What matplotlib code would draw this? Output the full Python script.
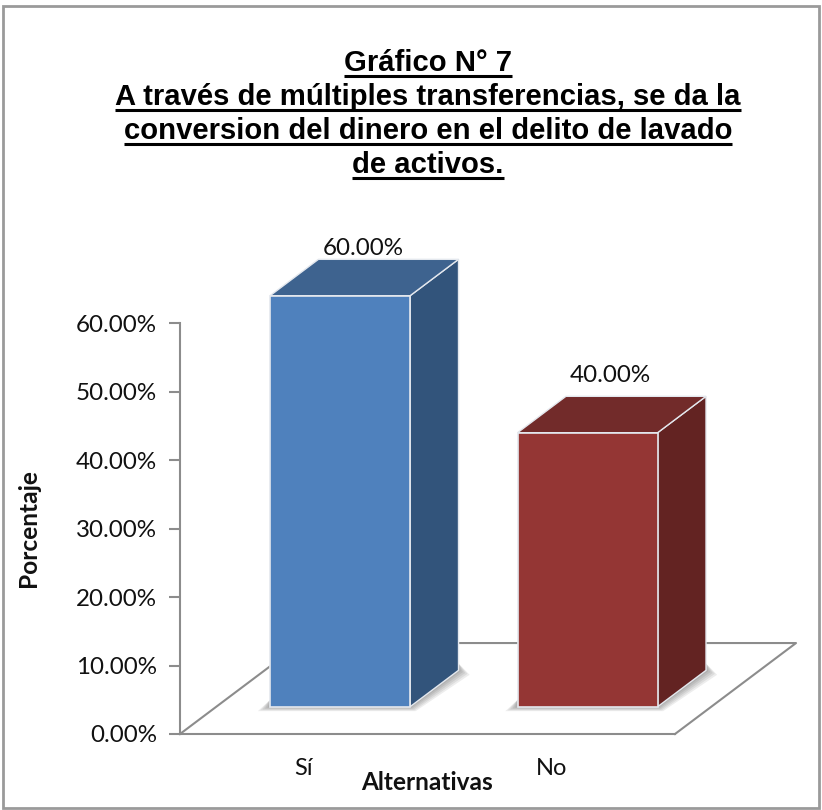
import matplotlib
matplotlib.use("Agg")
import matplotlib.pyplot as plt
from matplotlib.lines import Line2D
from matplotlib.patches import Polygon, Rectangle

categories = ["Sí", "No"]
values = [60.0, 40.0]
front_colors = ["#4f81bd", "#943634"]
top_colors = ["#3e638f", "#722b2a"]
side_colors = ["#32547b", "#632322"]
yticks = [0, 10, 20, 30, 40, 50, 60]
title_lines = [
    "Gráfico N° 7",
    "A través de múltiples transferencias, se da la",
    "conversion del dinero en el delito de lavado",
    "de activos.",
]

W, H = 822, 810
GRAY = "#8c8c8c"
BAR_W = 0.566
# floor depth in data units, bars stand between 30% and 70% of it
FLOOR_DX = 0.489
FLOOR_DY = 13.28
D0, D1 = 0.30, 0.70
# gap between the back of the top face and the value label, one per bar
LABEL_GAPS = [0.05, 1.45]


def px(x0, y0, x1, y1):
    # rectangle in pixels from the top left, to figure fractions
    return [x0 / W, 1 - y1 / H, (x1 - x0) / W, (y1 - y0) / H]


def main():
    fig = plt.figure(figsize=(W / 100, H / 100), dpi=100)
    fig.patch.set_facecolor("white")
    fig.add_artist(Rectangle((2.5 / W, 1 - 807.5 / H), 816.5 / W, 802 / H, transform=fig.transFigure,
                             fill=False, ec="#9a9a9a", lw=2.0))

    ax = fig.add_axes(px(180, 323, 675, 734))
    ax.set_xlim(-0.5, 1.5)
    ax.set_ylim(0, 60)
    ax.patch.set_alpha(0)
    for s in ["top", "right"]:
        ax.spines[s].set_visible(False)
    for s in ["left", "bottom"]:
        ax.spines[s].set_color(GRAY)
        ax.spines[s].set_linewidth(1.5)

    font = "Lato"
    ax.set_yticks(yticks)
    ax.set_yticklabels(["%.2f%%" % t for t in yticks], fontsize=17.4, family=font, color="#111111")
    ax.tick_params(axis="y", length=8, width=1.5, color=GRAY, pad=8.5)
    ax.set_xticks(range(len(categories)))
    ax.set_xticklabels(categories, fontsize=17, family=font, color="#111111")
    ax.tick_params(axis="x", length=0, pad=17)

    # floor
    x0, x1 = ax.get_xlim()
    ax.add_line(Line2D([x0, x0 + FLOOR_DX, x1 + FLOOR_DX, x1], [0, FLOOR_DY, FLOOR_DY, 0],
                       color=GRAY, lw=1.5, clip_on=False, zorder=1))

    for i, v in enumerate(values):
        xl = i - BAR_W / 2 + D0 * FLOOR_DX
        xr = xl + BAR_W
        yb = D0 * FLOOR_DY
        yt = yb + v
        dx = (D1 - D0) * FLOOR_DX
        dy = (D1 - D0) * FLOOR_DY

        # soft shadow on the floor
        for k in range(1, 6):
            s = 0.0045 * k
            t = 0.13 * k
            ax.add_patch(Polygon([(xl - 2.2 * s, yb - t), (xr + s, yb - t), (xr + dx + 2 * s, yb + dy - t),
                                  (xr + dx, yb + dy + 1), (xl, yb + 1)],
                                 fc="black", ec="none", alpha=0.07, clip_on=False, zorder=2))

        ax.bar(xl + BAR_W / 2, v, width=BAR_W, bottom=yb, color=front_colors[i],
               edgecolor="#e4e8ee", linewidth=1.2, clip_on=False, zorder=4)
        ax.add_patch(Polygon([(xr, yb), (xr + dx, yb + dy), (xr + dx, yt + dy), (xr, yt)],
                             fc=side_colors[i], ec="#e4e8ee", lw=1.0, clip_on=False, zorder=3))
        ax.add_patch(Polygon([(xl, yt), (xr, yt), (xr + dx, yt + dy), (xl + dx, yt + dy)],
                             fc=top_colors[i], ec="#e4e8ee", lw=1.0, clip_on=False, zorder=3))
        ax.text(i + 0.24, yt + dy + LABEL_GAPS[i], "%.2f%%" % v, ha="center", va="bottom", fontsize=17.4,
                family=font, color="#111111", zorder=5)

    fig.text(427 / W, 1 - 782 / H, "Alternativas", ha="center", va="center", fontsize=17.6,
             fontweight="bold", family=font, color="#111111")
    fig.text(28 / W, 1 - 528 / H, "Porcentaje", ha="center", va="center", rotation=90, fontsize=17.6,
             fontweight="bold", family=font, color="#111111")

    # title, with underlines measured from the text itself
    renderer = fig.canvas.get_renderer()
    for i, line in enumerate(title_lines):
        base = 71 + i * 34
        t = fig.text(428 / W, 1 - base / H, line, ha="center", va="baseline", fontsize=21.1,
                     fontweight="bold", family="Liberation Sans", color="black")
        bb = t.get_window_extent(renderer)
        fig.add_artist(Line2D([bb.x0 / W, bb.x1 / W], [1 - (base + 4.5) / H] * 2,
                              transform=fig.transFigure, color="black", lw=2.2, solid_capstyle="butt"))

    fig.savefig("out.png", dpi=100)


if __name__ == "__main__":
    main()
